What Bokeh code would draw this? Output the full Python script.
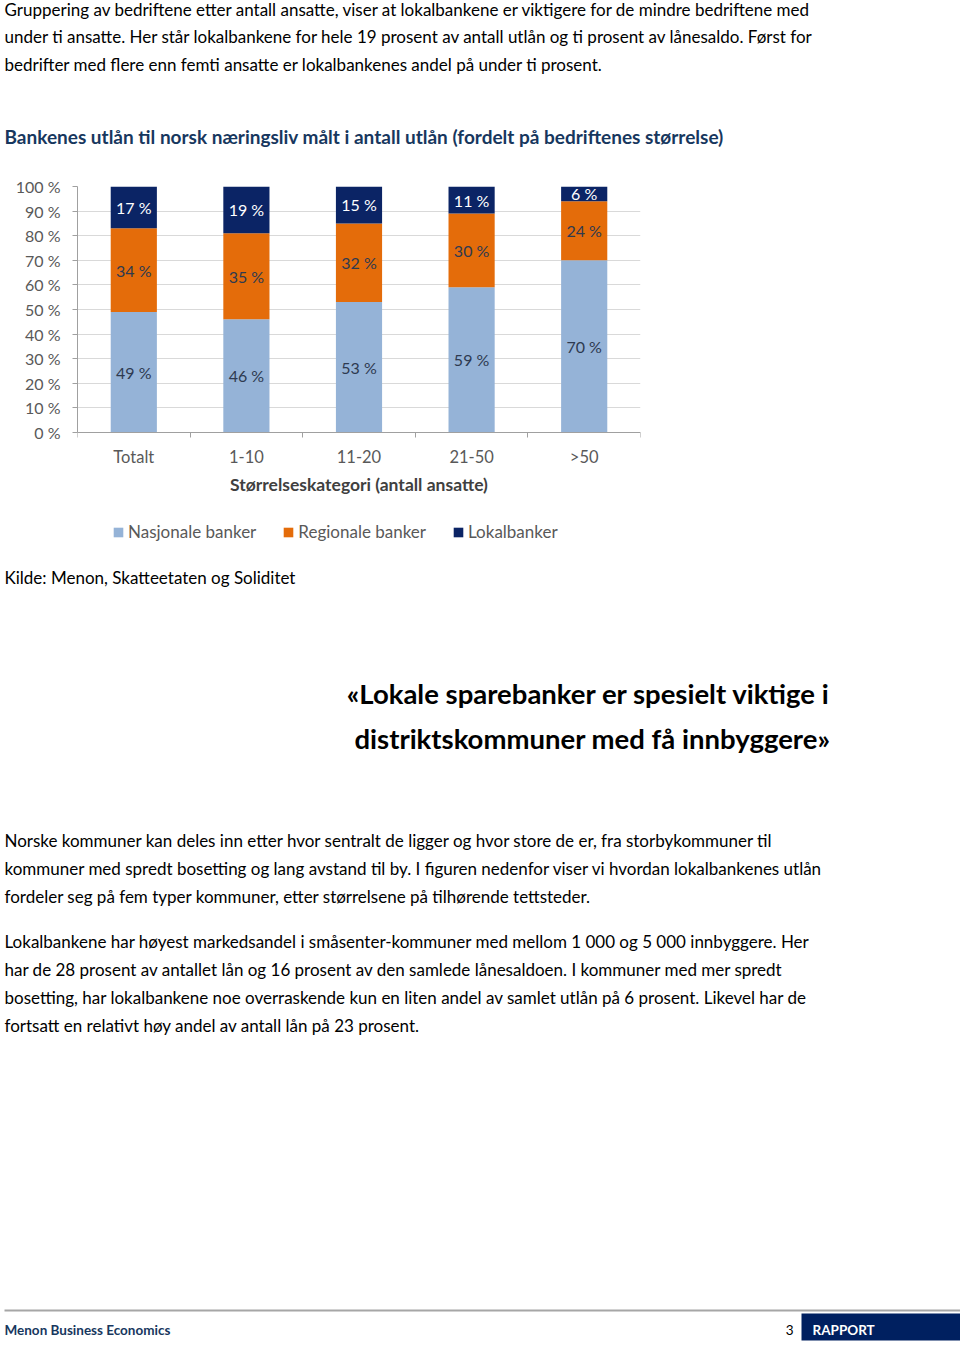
from bokeh.plotting import figure
from bokeh.layouts import column
from bokeh.models import (Range1d, FixedTicker, PrintfTickFormatter, Legend,
                          ColumnDataSource, CustomJSTickFormatter)
from bokeh.core.properties import value
from bokeh.embed import file_html
from bokeh.resources import INLINE

# ---------------- data ----------------
categories = ["Totalt", "1-10", "11-20", "21-50", ">50"]
nasjonale = [49, 46, 53, 59, 70]
regionale = [34, 35, 32, 30, 24]
lokal = [17, 19, 15, 11, 6]
series_names = ["Nasjonale banker", "Regionale banker", "Lokalbanker"]
y_ticks = [0, 10, 20, 30, 40, 50, 60, 70, 80, 90, 100]

chart_title = "Bankenes utlån til norsk næringsliv målt i antall utlån (fordelt på bedriftenes størrelse)"
x_axis_label = "Størrelseskategori (antall ansatte)"
para1 = [
    "Gruppering av bedriftene etter antall ansatte, viser at lokalbankene er viktigere for de mindre bedriftene med",
    "under ti ansatte. Her står lokalbankene for hele 19 prosent av antall utlån og ti prosent av lånesaldo. Først for",
    "bedrifter med flere enn femti ansatte er lokalbankenes andel på under ti prosent.",
]
source_note = "Kilde: Menon, Skatteetaten og Soliditet"
quote = ["«Lokale sparebanker er spesielt viktige i", "distriktskommuner med få innbyggere»"]
para2 = [
    "Norske kommuner kan deles inn etter hvor sentralt de ligger og hvor store de er, fra storbykommuner til",
    "kommuner med spredt bosetting og lang avstand til by. I figuren nedenfor viser vi hvordan lokalbankenes utlån",
    "fordeler seg på fem typer kommuner, etter størrelsene på tilhørende tettsteder.",
]
para3 = [
    "Lokalbankene har høyest markedsandel i småsenter-kommuner med mellom 1 000 og 5 000 innbyggere. Her",
    "har de 28 prosent av antallet lån og 16 prosent av den samlede lånesaldoen. I kommuner med mer spredt",
    "bosetting, har lokalbankene noe overraskende kun en liten andel av samlet utlån på 6 prosent. Likevel har de",
    "fortsatt en relativt høy andel av antall lån på 23 prosent.",
]
footer_left = "Menon Business Economics"
footer_page = "3"
footer_right = "RAPPORT"

# ---------------- style ----------------
FONT = "Lato"
BODY_SIZE = "17px"
C_NAS, C_REG, C_LOK = "#95B3D7", "#E46C0A", "#0B2465"
NAVY = "#17375E"
GRAY_TXT = "#595959"
W = 960


def text_fig(y0, y1):
    f = figure(width=W, height=y1 - y0, x_range=Range1d(0, W), y_range=Range1d(y1, y0),
               output_backend="svg", toolbar_location=None,
               x_axis_location=None, y_axis_location=None,
               min_border=0, min_border_left=0, min_border_right=0,
               min_border_top=0, min_border_bottom=0, frame_align=False)
    f.grid.visible = False
    f.outline_line_color = None
    return f


def put(f, x, ys, lines, size=BODY_SIZE, color="#000000", style="normal", align="left"):
    f.text(x=[x] * len(lines), y=ys, text=lines, text_font=value(FONT),
           text_font_size=size, text_color=color, text_font_style=style,
           text_align=align, text_baseline="middle")


# ---------------- top text ----------------
top = text_fig(0, 150)
put(top, 4, [9, 36, 64], para1)
put(top, 4, [136], [chart_title], size="19px", color=NAVY, style="bold")

# ---------------- chart ----------------
# frame spans page y 186..560; value 0 sits at y 432 (room below for axis text + legend)
x_pos = [i + 0.5 for i in range(len(categories))]
src = ColumnDataSource(dict(x=x_pos, nasjonale=nasjonale, regionale=regionale, lokal=lokal))

p = figure(width=W, height=410, x_range=Range1d(0, len(categories)), y_range=Range1d(-52.03, 100),
           output_backend="svg", toolbar_location=None, frame_align=False,
           min_border_left=77, min_border_right=320, min_border_top=36, min_border_bottom=0)
p.outline_line_color = None

rs = p.vbar_stack(["nasjonale", "regionale", "lokal"], x="x", width=0.41,
                  color=[C_NAS, C_REG, C_LOK], line_color=None, source=src)

# value labels centred in each segment
c1 = [n / 2 for n in nasjonale]
c2 = [n + r / 2 for n, r in zip(nasjonale, regionale)]
c3 = [n + r + l / 2 for n, r, l in zip(nasjonale, regionale, lokal)]
lab_src = ColumnDataSource(dict(
    x=x_pos * 3,
    y=c1 + c2 + c3,
    t=[f"{v} %" for v in nasjonale + regionale + lokal],
    c=["#2E3A50"] * 10 + ["#FFFFFF"] * 5,
))
p.text(x="x", y="y", text="t", text_color="c", source=lab_src, text_font=value(FONT),
       text_font_size="16px", text_align="center", text_baseline="middle")

# y axis
p.yaxis.ticker = FixedTicker(ticks=y_ticks)
p.yaxis.bounds = (0, 100)
p.yaxis.formatter = PrintfTickFormatter(format="%d %%")
p.yaxis.major_tick_out = 5
p.yaxis.major_tick_in = 0
p.yaxis.minor_tick_out = 0
p.yaxis.minor_tick_in = 0
p.yaxis.axis_line_color = "#A0A0A0"
p.yaxis.major_tick_line_color = "#A0A0A0"
p.yaxis.major_label_standoff = 12
p.yaxis.major_label_text_font = FONT
p.yaxis.major_label_text_font_size = "16px"
p.yaxis.major_label_text_color = GRAY_TXT
p.ygrid.ticker = FixedTicker(ticks=y_ticks)
p.ygrid.grid_line_color = "#D9D9D9"
p.xgrid.visible = False

# x axis drawn at value 0: labels at category centres, tick marks at category boundaries
p.xaxis.fixed_location = 0
p.xaxis.ticker = FixedTicker(ticks=x_pos, minor_ticks=list(range(len(categories) + 1)))
p.xaxis.formatter = CustomJSTickFormatter(args=dict(cats=categories),
                                          code="return cats[Math.floor(tick)] || '';")
p.xaxis.major_tick_out = 0
p.xaxis.major_tick_in = 0
p.xaxis.minor_tick_out = 5
p.xaxis.minor_tick_in = 0
p.xaxis.minor_tick_line_color = "#A0A0A0"
p.xaxis.axis_line_color = "#A0A0A0"
p.xaxis.major_label_standoff = 9
p.xaxis.major_label_text_font = FONT
p.xaxis.major_label_text_font_size = "16.5px"
p.xaxis.major_label_text_color = GRAY_TXT
p.xaxis.axis_label = x_axis_label
p.xaxis.axis_label_standoff = 4
p.xaxis.axis_label_text_font = FONT
p.xaxis.axis_label_text_font_size = "17.5px"
p.xaxis.axis_label_text_font_style = "bold"
p.xaxis.axis_label_text_color = "#404040"

legend = Legend(items=[(n, [r]) for n, r in zip(series_names, rs)],
                orientation="horizontal", location=(35, 18), padding=0, margin=0,
                spacing=26, glyph_width=12, glyph_height=12, label_standoff=4,
                label_text_font=FONT, label_text_font_size="17px",
                label_text_color=GRAY_TXT, border_line_color=None,
                background_fill_alpha=0)
p.add_layout(legend)

# ---------------- bottom text ----------------
bot = text_fig(560, 1345)
put(bot, 4, [577], [source_note])
put(bot, 830, [693, 738], quote, size="27.5px", style="bold", align="right")
put(bot, 4, [840, 868, 896], para2)
put(bot, 4, [941, 969, 997, 1025], para3)

# footer
bot.segment(x0=[4], y0=[1310], x1=[W], y1=[1310], line_color="#A6A6A6", line_width=2)
bot.quad(left=[801], right=[W], top=[1313], bottom=[1340], color="#002060", line_color=None)
put(bot, 4, [1329], [footer_left], size="13.5px", color=NAVY, style="bold")
put(bot, 793, [1329], [footer_page], size="13.5px", align="right")
put(bot, 812, [1329], [footer_right], size="13.5px", color="#FFFFFF", style="bold")

page = column(top, p, bot, spacing=0)
open("out.html", "w").write(file_html(page, INLINE))
